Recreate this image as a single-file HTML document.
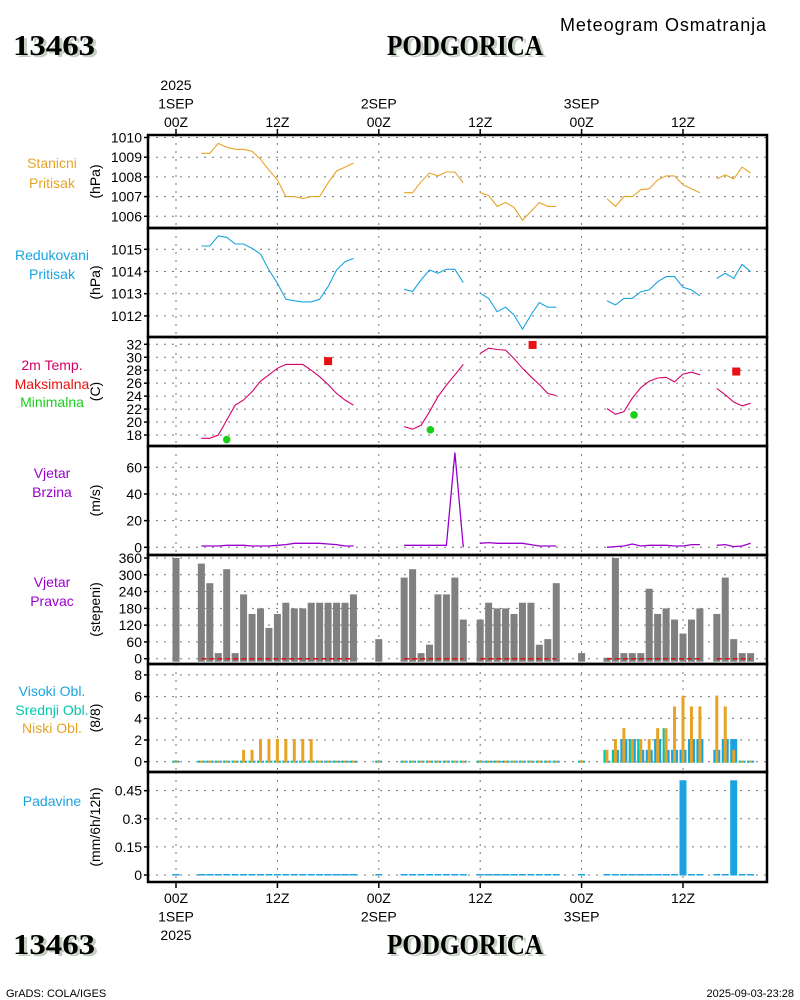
<!DOCTYPE html>
<html><head><meta charset="utf-8"><title>Meteogram Osmatranja - PODGORICA</title>
<style>
html,body{margin:0;padding:0;background:#fff;}
svg{display:block;}
text{font-family:"Liberation Sans",sans-serif;}
.t{font-size:14px;}
.big{font-family:"Liberation Serif",serif;font-weight:bold;font-size:28px;}
</style></head>
<body>
<svg id="chart" width="800" height="1000" viewBox="0 0 800 1000" xmlns="http://www.w3.org/2000/svg">
<g>
  <text x="16" y="57" class="big" fill="#c4d0c0" textLength="82" lengthAdjust="spacingAndGlyphs">13463</text>
  <text x="13" y="55" class="big" fill="#000" textLength="82" lengthAdjust="spacingAndGlyphs">13463</text>
  <text x="390" y="57" class="big" fill="#c4d0c0" textLength="156" lengthAdjust="spacingAndGlyphs">PODGORICA</text>
  <text x="387" y="55" class="big" fill="#000" textLength="156" lengthAdjust="spacingAndGlyphs">PODGORICA</text>
  <text x="766" y="31" font-size="18" text-anchor="end" textLength="206">Meteogram Osmatranja</text>
</g>
<g>
  <text x="16" y="956" class="big" fill="#c4d0c0" textLength="82" lengthAdjust="spacingAndGlyphs">13463</text>
  <text x="13" y="954" class="big" fill="#000" textLength="82" lengthAdjust="spacingAndGlyphs">13463</text>
  <text x="390" y="956" class="big" fill="#c4d0c0" textLength="156" lengthAdjust="spacingAndGlyphs">PODGORICA</text>
  <text x="387" y="954" class="big" fill="#000" textLength="156" lengthAdjust="spacingAndGlyphs">PODGORICA</text>
  <text x="6" y="997" font-size="11">GrADS: COLA/IGES</text>
  <text x="794" y="997" font-size="11" text-anchor="end">2025-09-03-23:28</text>
</g>
<g id="plot"></g>
</svg>
<script>
// ---- data (hourly from 1SEP 00Z, h = 0..68) ----
var N=null;
var stationPressure=[N,N,N,1009.2,1009.2,1009.7,1009.5,1009.4,1009.4,1009.3,1008.9,1008.35,1007.85,1007.0,1007.0,1006.9,1007.0,1007.0,1007.7,1008.3,1008.5,1008.7,N,N,N,N,N,1007.2,1007.2,1007.75,1008.2,1008.05,1008.25,1008.25,1007.7,N,1007.2,1007.05,1006.5,1006.7,1006.45,1005.8,1006.25,1006.7,1006.5,1006.5,N,N,N,N,N,1006.9,1006.5,1007.0,1007.0,1007.35,1007.4,1007.85,1008.05,1008.05,1007.6,1007.4,1007.2,N,1007.9,1008.1,1007.9,1008.5,1008.2];
var reducedPressure=[N,N,N,1015.15,1015.15,1015.6,1015.54,1015.24,1015.24,1015.04,1014.79,1014.07,1013.47,1012.75,1012.68,1012.63,1012.63,1012.75,1013.32,1014.07,1014.44,1014.59,N,N,N,N,N,1013.2,1013.1,1013.62,1014.07,1013.92,1014.1,1014.1,1013.5,N,1013.02,1012.79,1012.19,1012.39,1012.04,1011.4,1012.04,1012.6,1012.39,1012.39,N,N,N,N,N,1012.68,1012.49,1012.79,1012.79,1013.09,1013.17,1013.54,1013.77,1013.77,1013.29,1013.17,1012.9,N,1013.69,1013.92,1013.69,1014.32,1013.99];
var temperature=[N,N,N,17.5,17.5,18.0,20.3,22.6,23.4,24.7,26.3,27.3,28.3,28.9,28.9,28.9,28.0,27.0,25.8,24.4,23.4,22.6,N,N,N,N,N,19.3,18.9,19.5,21.6,23.9,25.7,27.3,28.9,N,30.6,31.4,31.2,31.1,29.8,28.3,27.0,25.8,24.4,24.1,N,N,N,N,N,22.1,21.2,21.6,23.7,25.3,26.3,26.8,26.9,26.2,27.4,27.7,27.3,N,25.2,24.2,23.1,22.5,22.9];
var maxTempHours=[18,42.2,66.3];
var maxTempValues=[29.4,31.9,27.8];
var minTempHours=[6,30.1,54.2];
var minTempValues=[17.3,18.8,21.1];
var windSpeed=[N,N,N,1,1,1,1.5,1.5,1.5,1,1,1,1.5,2,3,3,3,3,2.5,2,1,1,N,N,N,N,N,1.5,1.5,1.5,1.5,1.5,1.5,71,0,N,3,3.5,3,3,3,3,2,1,1,1,N,N,N,N,N,0,0.5,1,2.5,1,1.5,1.5,1.5,1,1,2,2,N,1.5,2,0.5,1,3];
var windDir=[360,N,N,340,270,20,320,20,230,160,180,110,160,200,180,180,200,200,200,200,200,230,N,N,70,N,N,290,320,20,50,230,230,290,140,N,140,200,180,180,160,200,200,50,70,270,N,N,20,N,N,0,360,20,20,20,250,160,180,140,90,140,180,N,160,290,70,20,20];
var lowCloud=[0,N,N,0,0,0,0,0,1,1,2,2,2,2,2,2,2,0,0,0,0,0,N,N,0,N,N,0,0,0,0,0,0,0,0,N,0,0,0,0,0,0,0,0,0,0,N,N,0,N,N,1,2,3,2,2,2,3,3,5,6,5,5,N,6,5,1,0,0];
var midCloud=[0,N,N,0,0,0,0,0,0,0,0,0,0,0,0,0,0,0,0,0,0,0,N,N,0,N,N,0,0,0,0,0,0,0,0,N,0,0,0,0,0,0,0,0,0,0,N,N,0,N,N,1,1,0,2,2,0,0,3,0,0,0,0,N,0,0,0,0,0];
var highCloud=[0,N,N,0,0,0,0,0,0,0,0,0,0,0,0,0,0,0,0,0,0,0,N,N,0,N,N,0,0,0,0,0,0,0,0,N,0,0,0,0,0,0,0,0,0,0,N,N,0,N,N,0,1,2,2,1,1,2,1,1,1,2,2,N,1,2,2,0,0];
var precipHours=[0,3,4,5,6,7,8,9,10,11,12,13,14,15,16,17,18,19,20,21,24,27,28,29,30,31,32,33,34,36,37,38,39,40,41,42,43,44,45,48,51,52,53,54,55,56,57,58,59,60,61,62,64,65,66,67,68];
var precipValues=[0,0,0,0,0,0,0,0,0,0,0,0,0,0,0,0,0,0,0,0,0,0,0,0,0,0,0,0,0,0,0,0,0,0,0,0,0,0,0,0,0,0,0,0,0,0,0,0,0,0.5,0,0,0,0,0.5,0,0];
var timeTickHours=[0,12,24,36,48,60];
var topTickLabels=[["2025","1SEP","00Z"],["12Z"],["2SEP","00Z"],["12Z"],["3SEP","00Z"],["12Z"]];
var bottomTickLabels=[["00Z","1SEP","2025"],["12Z"],["00Z","2SEP"],["12Z"],["00Z","3SEP"],["12Z"]];
var p1Ticks=[1006,1007,1008,1009,1010];
var p2Ticks=[1012,1013,1014,1015];
var p3Ticks=[18,20,22,24,26,28,30,32];
var p4Ticks=[0,20,40,60];
var p5Ticks=[0,60,120,180,240,300,360];
var p6Ticks=[0,2,4,6,8];
var p7Ticks=[0,0.15,0.3,0.45];
var p7TickLabels=["0","0.15","0.3","0.45"];

// ---- layout ----
var L=148,R=767;
var NS="http://www.w3.org/2000/svg";
var plot=document.getElementById('plot');
function X(h){return 176+h*101.4/12;}
function mk(tag,attrs,parent){var e=document.createElementNS(NS,tag);for(var k in attrs)e.setAttribute(k,attrs[k]);(parent||plot).appendChild(e);return e;}
function txt(x,y,s,attrs,parent){var e=mk('text',attrs,parent);e.setAttribute('x',x);e.setAttribute('y',y);e.textContent=s;return e;}
function lin(v0,y0,k){return function(v){return y0-(v-v0)*k;};}

var panels=[
 {top:135,bot:228,y:lin(1010,137.5,19.7),ticks:p1Ticks,unit:"(hPa)",labels:[["Stanicni","#e6a427"],["Pritisak","#e6a427"]],ly:[168,188],name:"station-pressure"},
 {top:228,bot:337,y:lin(1015,249.3,22.2),ticks:p2Ticks,unit:"(hPa)",labels:[["Redukovani","#1ba3e0"],["Pritisak","#1ba3e0"]],ly:[260,279],name:"reduced-pressure"},
 {top:337,bot:446,y:lin(32,344.3,6.48),ticks:p3Ticks,unit:"(C)",labels:[["2m Temp.","#d4006a"],["Maksimalna","#e81010"],["Minimalna","#18d018"]],ly:[370,389,407],name:"temperature"},
 {top:446,bot:555,y:lin(0,547.3,1.3333),ticks:p4Ticks,unit:"(m/s)",labels:[["Vjetar","#9a00cc"],["Brzina","#9a00cc"]],ly:[478,497],name:"wind-speed"},
 {top:555,bot:664,y:lin(0,658.7,0.2797),ticks:p5Ticks,unit:"(stepeni)",labels:[["Vjetar","#9a00cc"],["Pravac","#9a00cc"]],ly:[587,606],name:"wind-direction"},
 {top:664,bot:772,y:lin(0,761.7,10.85),ticks:p6Ticks,unit:"(8/8)",labels:[["Visoki Obl.","#1ba3e0"],["Srednji Obl.","#00c8a8"],["Niski Obl.","#e6a427"]],ly:[696,715,733],name:"clouds"},
 {top:772,bot:882,y:lin(0,875,187.4),ticks:p7Ticks,tl:p7TickLabels,unit:"(mm/6h/12h)",labels:[["Padavine","#1ba3e0"]],ly:[806],name:"precipitation"}
];

panels.forEach(function(p,pi){
  var g=mk('g',{});
  
  
  timeTickHours.forEach(function(h){
    var gl=mk('line',{x1:X(h),x2:X(h),y1:p.top,y2:p.bot,stroke:'#777','stroke-width':1,'stroke-dasharray':'2,6'},g);
    
    
  });
  p.ticks.forEach(function(v,i){
    var yy=p.y(v);
    var hl=mk('line',{x1:L,x2:R,y1:yy,y2:yy,stroke:'#777','stroke-width':1,'stroke-dasharray':'2,6'},g);
    
    
    mk('line',{x1:L-4,x2:L,y1:yy,y2:yy,stroke:'#000','stroke-width':1.5},g);
    var t=txt(L-6,yy+5,p.tl?p.tl[i]:String(v),{class:'t','text-anchor':'end',style:'fill:#000'},g);
    
    
  });
  var ut=txt(0,0,p.unit,{class:'t','text-anchor':'middle',style:'fill:#000',transform:'translate(100,'+((p.top+p.bot)/2)+') rotate(-90)'},g);
  
  
  p.labels.forEach(function(lb,i){
    var t=txt(52,p.ly[i],lb[0],{class:'t','text-anchor':'middle',style:'fill:'+lb[1]},g);
    
    
  });
  p.g=g;
});

function drawLine(arr,p,color,name,w){
  var segs=[],cur=[];
  arr.forEach(function(v,h){if(v===null){if(cur.length)segs.push(cur);cur=[];}else cur.push(X(h).toFixed(1)+','+p.y(v).toFixed(1));});
  if(cur.length)segs.push(cur);
  segs.forEach(function(s){
    var e=mk('polyline',{points:s.join(' '),fill:'none',stroke:color,'stroke-width':w||1.1},p.g);
    
    
  });
}
drawLine(stationPressure,panels[0],'#e6a427','station-pressure-line');
drawLine(reducedPressure,panels[1],'#1ba3e0','reduced-pressure-line');
drawLine(temperature,panels[2],'#d4006a','temperature-line');
drawLine(windSpeed,panels[3],'#9a00cc','wind-speed-line',1.3);

maxTempHours.forEach(function(h,i){
  var yy=panels[2].y(maxTempValues[i]);
  var e=mk('rect',{x:X(h)-4,y:yy-4,width:8,height:8,fill:'#e81010'},panels[2].g);
  
  
});
minTempHours.forEach(function(h,i){
  var yy=panels[2].y(minTempValues[i]);
  var e=mk('circle',{cx:X(h),cy:yy,r:3.8,fill:'#18d018'},panels[2].g);
  
  
});

var p5=panels[4];
windDir.forEach(function(v,h){
  if(v===null)return;
  var y0=p5.y(0),y1=p5.y(v);
  var e=mk('rect',{x:X(h)-3.5,y:Math.min(y1,y0-1),width:7,height:Math.max(y0-y1,1)+3,fill:'#808080'},p5.g);
  
  
});
[[3,21],[27,34],[36,45],[51,62],[64,68]].forEach(function(s){
  var e=mk('line',{x1:X(s[0]),x2:X(s[1]),y1:p5.y(0),y2:p5.y(0),stroke:'#e01010','stroke-width':1.5,'stroke-dasharray':'5,3'},p5.g);
  
  
});

var p6=panels[5];
function cloudBars(arr,dx,w,color,name){
  arr.forEach(function(v,h){
    if(v===null)return;
    var y0=p6.y(0),y1=p6.y(v);
    var e=mk('rect',{x:X(h)+dx,y:y1-1,width:w,height:Math.max(y0-y1,0)+2,fill:color},p6.g);
    
    
  });
}
cloudBars(highCloud,-3.5,7,'#1ba3e0','high-cloud-bar');
cloudBars(midCloud,-3.5,2,'#00c8a8','mid-cloud-bar');
cloudBars(lowCloud,-1.5,3,'#e6a427','low-cloud-bar');

var p7=panels[6];
precipHours.forEach(function(h,i){
  var v=precipValues[i],y0=p7.y(0),y1=p7.y(v);
  var e=mk('rect',{x:X(h)-3.5,y:y1-1,width:7,height:Math.max(y0-y1,0)+1.5,fill:'#1ba3e0'},p7.g);
  
  
});

panels.forEach(function(p){
  var e=mk('rect',{x:L,y:p.top,width:R-L,height:p.bot-p.top,fill:'none',stroke:'#000','stroke-width':2.5});
  
  
});

timeTickHours.forEach(function(h,i){
  mk('line',{x1:X(h),x2:X(h),y1:129,y2:135,stroke:'#000','stroke-width':1.5});
  mk('line',{x1:X(h),x2:X(h),y1:882,y2:888,stroke:'#000','stroke-width':1.5});
  var tl=topTickLabels[i];
  tl.forEach(function(s,j){
    var t=txt(X(h),127-(tl.length-1-j)*18.5,s,{class:'t','text-anchor':'middle',style:'fill:#000'});
    
    
  });
  bottomTickLabels[i].forEach(function(s,j){
    var t=txt(X(h),903+j*18.5,s,{class:'t','text-anchor':'middle',style:'fill:#000'});
    
    
  });
});
</script>
</body></html>
